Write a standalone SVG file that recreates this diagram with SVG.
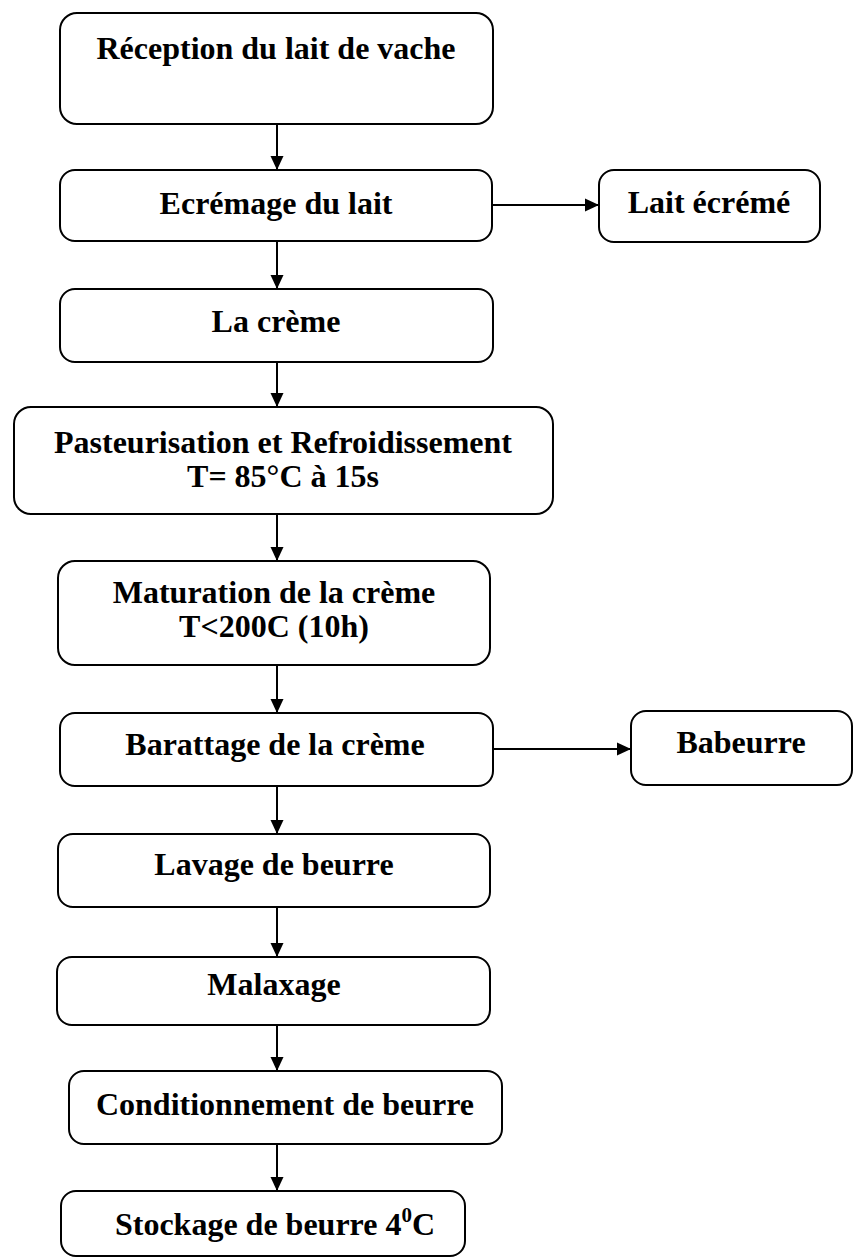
<svg xmlns="http://www.w3.org/2000/svg" width="853" height="1260" viewBox="0 0 853 1260">
<style>
.box{fill:#fff;stroke:#000;stroke-width:2}
.t{font-family:"Liberation Serif","Times New Roman",serif;font-weight:bold;font-size:32px;fill:#000;text-anchor:middle}
.c{stroke:#000;stroke-width:2;fill:none;marker-end:url(#ah)}
</style>
<defs>
<marker id="ah" viewBox="0 0 14 14" refX="14" refY="7" markerWidth="14" markerHeight="14" markerUnits="userSpaceOnUse" orient="auto">
<path d="M0,0.5 L14,7 L0,13.5 Z" fill="#000"/>
</marker>
</defs>
<rect width="853" height="1260" fill="#fff"/>
<g id="connectors">
<line class="c" x1="277" y1="124" x2="277" y2="170"/>
<line class="c" x1="492" y1="205" x2="599" y2="205"/>
<line class="c" x1="277" y1="241" x2="277" y2="289"/>
<line class="c" x1="277" y1="362" x2="277" y2="407"/>
<line class="c" x1="277" y1="514" x2="277" y2="561"/>
<line class="c" x1="277" y1="665" x2="277" y2="713"/>
<line class="c" x1="492" y1="749" x2="631" y2="749"/>
<line class="c" x1="277" y1="786" x2="277" y2="834"/>
<line class="c" x1="277" y1="907" x2="277" y2="957"/>
<line class="c" x1="277" y1="1025" x2="277" y2="1071"/>
<line class="c" x1="277" y1="1144" x2="277" y2="1191"/>
</g>
<g id="n1"><rect class="box" x="60" y="13" width="433" height="111" rx="17"/><text class="t" x="276" y="59">Réception du lait de vache</text></g>
<g id="n2"><rect class="box" x="60" y="170" width="432" height="71" rx="15"/><text class="t" x="276" y="214">Ecrémage du lait</text></g>
<g id="n3"><rect class="box" x="599" y="170" width="221" height="72" rx="15"/><text class="t" x="709" y="213">Lait écrémé</text></g>
<g id="n4"><rect class="box" x="60" y="289" width="433" height="73" rx="15"/><text class="t" x="276" y="332">La crème</text></g>
<g id="n5"><rect class="box" x="14" y="407" width="539" height="107" rx="17"/><text class="t" x="283" y="453">Pasteurisation et Refroidissement</text><text class="t" x="283" y="487">T= 85°C à 15s</text></g>
<g id="n6"><rect class="box" x="58" y="561" width="432" height="104" rx="17"/><text class="t" x="274" y="603">Maturation de la crème</text><text class="t" x="274" y="637">T&lt;200C (10h)</text></g>
<g id="n7"><rect class="box" x="60" y="713" width="433" height="73" rx="15"/><text class="t" x="275" y="755">Barattage de la crème</text></g>
<g id="n8"><rect class="box" x="631" y="711" width="221" height="74" rx="15"/><text class="t" x="741" y="753">Babeurre</text></g>
<g id="n9"><rect class="box" x="58" y="834" width="432" height="73" rx="15"/><text class="t" x="274" y="875">Lavage de beurre</text></g>
<g id="n10"><rect class="box" x="57" y="957" width="433" height="68" rx="15"/><text class="t" x="274" y="995">Malaxage</text></g>
<g id="n11"><rect class="box" x="69" y="1071" width="433" height="73" rx="15"/><text class="t" x="285" y="1115">Conditionnement de beurre</text></g>
<g id="n12"><rect class="box" x="61" y="1191" width="404" height="65" rx="15"/><text class="t" x="275" y="1235">Stockage de beurre 4<tspan font-size="21" dy="-13">0</tspan><tspan dy="13">C</tspan></text></g>
</svg>
